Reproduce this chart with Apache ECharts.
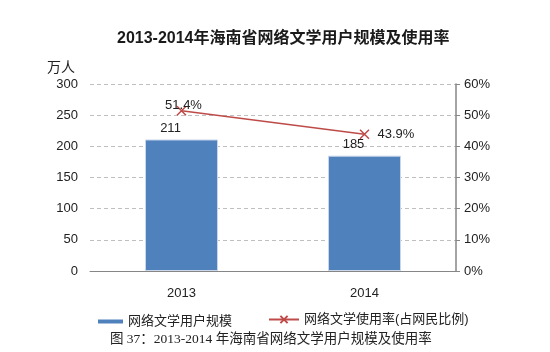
<!DOCTYPE html>
<html>
<head>
<meta charset="utf-8">
<script src="https://cdn.jsdelivr.net/npm/echarts@6/dist/echarts.min.js"></script>
<style>
  html, body { margin: 0; padding: 0; background: #fff; }
  #chart { width: 550px; height: 352px; }
</style>
</head>
<body>
<div id="chart"></div>
<script>
var years = ['2013', '2014']
var users = [211, 185]
var rate = [51.4, 43.9]
var leftTicks = [0, 300, 50]
var rightTicks = [0, 60, 10]

var font = 'Liberation Sans, Arial, "Noto Sans CJK SC", sans-serif'
var barName = '网络文学用户规模'
var lineName = '网络文学使用率(占网民比例)'

var chart = echarts.init(document.getElementById('chart'))
chart.setOption({
  animation: false,
  textStyle: { fontFamily: font },
  title: {
    text: '2013-2014年海南省网络文学用户规模及使用率',
    left: 112,
    top: 26,
    textStyle: { fontSize: 16, fontWeight: 'bold', color: '#1a1a1a', fontFamily: font }
  },
  grid: { left: 90, right: 94, top: 84, bottom: 81 },
  legend: [
    {
      data: [{ name: barName, icon: 'rect', itemStyle: { borderWidth: 0 } }],
      left: 93, top: 310,
      itemWidth: 25, itemHeight: 4, itemGap: 5,
      textStyle: { fontSize: 13, color: '#222' }
    },
    {
      data: [{ name: lineName }],
      left: 263, top: 308,
      itemWidth: 30, itemHeight: 9, itemGap: 5,
      textStyle: { fontSize: 13, color: '#222' }
    }
  ],
  xAxis: {
    type: 'category',
    data: years,
    axisLine: { lineStyle: { color: '#868686' } },
    axisTick: { length: 4, lineStyle: { color: '#868686' } },
    axisLabel: { color: '#222', fontSize: 13, margin: 16 }
  },
  yAxis: [
    {
      type: 'value',
      min: leftTicks[0], max: leftTicks[1], interval: leftTicks[2],
      name: '万人',
      nameGap: 9,
      nameTextStyle: { color: '#222', fontSize: 14, align: 'right', padding: [0, 15, 0, 0] },
      axisLine: { show: false },
      axisTick: { show: false },
      axisLabel: { color: '#222', fontSize: 13, margin: 12 },
      splitLine: { lineStyle: { color: '#bfbfbf', type: [4, 3] } }
    },
    {
      type: 'value',
      position: 'right',
      min: rightTicks[0], max: rightTicks[1], interval: rightTicks[2],
      axisLine: { show: true, lineStyle: { color: '#868686', width: 1.5 } },
      axisTick: { show: true, length: 4, lineStyle: { color: '#868686' } },
      axisLabel: { color: '#222', fontSize: 13, margin: 8, formatter: '{value}%' },
      splitLine: { show: false }
    }
  ],
  series: [
    {
      name: barName,
      type: 'bar',
      data: users,
      barWidth: 73,
      itemStyle: { color: '#4F81BD', borderColor: '#c9d6ea', borderWidth: 1 },
      label: { show: true, position: 'top', offset: [-11, 0], color: '#222', fontSize: 13 }
    },
    {
      name: lineName,
      type: 'line',
      yAxisIndex: 1,
      data: rate.map(function (v, i) {
        return i === 0
          ? { value: v, label: { position: 'top', distance: 0, offset: [2, 8] } }
          : { value: v, label: { position: 'right', distance: 6 } }
      }),
      symbol: 'path://M0,0L10,10M10,0L0,10',
      symbolSize: 9,
      lineStyle: { color: '#BE4B48', width: 1.5 },
      itemStyle: { color: 'none', borderColor: '#BE4B48', borderWidth: 1.5 },
      label: {
        show: true, color: '#222', fontSize: 13,
        formatter: function (p) { return p.value + '%' }
      }
    }
  ],
  graphic: [
    {
      type: 'text',
      left: 110,
      top: 333,
      style: {
        text: '图 37：2013-2014 年海南省网络文学用户规模及使用率',
        fontSize: 13.5,
        fontFamily: '"Liberation Serif", "Noto Sans CJK SC", serif',
        fill: '#222'
      }
    }
  ]
})
</script>
</body>
</html>
